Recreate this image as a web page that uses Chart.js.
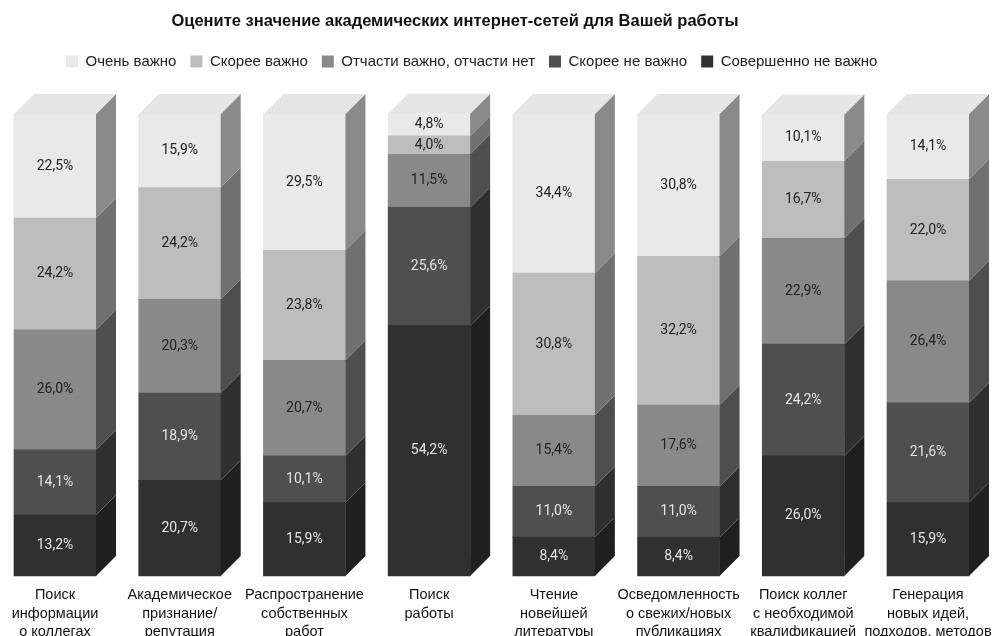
<!DOCTYPE html>
<html lang="ru">
<head>
<meta charset="UTF-8">
<title>Академические интернет-сети</title>
<script src="https://cdn.jsdelivr.net/npm/chart.js@4.4.0/dist/chart.umd.min.js"></script>
<style>
  body { margin: 0; background: #fff; }
  #wrap { width: 996px; height: 636px; }
</style>
</head>
<body>
<div id="wrap"><canvas id="chart"></canvas></div>
<script>
// категории (подписи оси X)
const categories = [
  ['Поиск', 'информации', 'о коллегах'],
  ['Академическое', 'признание/', 'репутация'],
  ['Распространение', 'собственных', 'работ'],
  ['Поиск', 'работы'],
  ['Чтение', 'новейшей', 'литературы'],
  ['Осведомленность', 'о свежих/новых', 'публикациях'],
  ['Поиск коллег', 'с необходимой', 'квалификацией'],
  ['Генерация', 'новых идей,', 'подходов, методов']
];

// значения, %
const veryImportant   = [22.5, 15.9, 29.5, 4.8, 34.4, 30.8, 10.1, 14.1];
const ratherImportant = [24.2, 24.2, 23.8, 4.0, 30.8, 32.2, 16.7, 22.0];
const partly          = [26.0, 20.3, 20.7, 11.5, 15.4, 17.6, 22.9, 26.4];
const ratherNot       = [14.1, 18.9, 10.1, 25.6, 11.0, 11.0, 24.2, 21.6];
const notAtAll        = [13.2, 20.7, 15.9, 54.2, 8.4, 8.4, 26.0, 15.9];

const seriesNames = ['Совершенно не важно', 'Скорее не важно', 'Отчасти важно, отчасти нет', 'Скорее важно', 'Очень важно'];
const seriesData  = [notAtAll, ratherNot, partly, ratherImportant, veryImportant];

// цвета: лицевая грань, боковая грань, подпись
const frontColors = ['#303030', '#4f4f4f', '#898989', '#bdbdbd', '#e9e9e9'];
const sideColors  = ['#202020', '#2f2f2f', '#4e4e4e', '#707070', '#8a8a8a'];
const labelColors = ['#e4e4e4', '#e4e4e4', '#222222', '#222222', '#222222'];
const topColor = '#e6e6e6';
const DEPTH = 20;

const fmt = v => v.toFixed(1).replace('.', ',') + '%';

// 3D грани + подписи значений
const bars3d = {
  id: 'bars3d',
  afterDatasetsDraw(chart) {
    const ctx = chart.ctx;
    ctx.save();
    chart.data.datasets.forEach((ds, di) => {
      const meta = chart.getDatasetMeta(di);
      meta.data.forEach((bar, i) => {
        const p = bar.getProps(['x', 'y', 'base', 'width'], true);
        const l = p.x - p.width / 2, r = p.x + p.width / 2;
        const top = Math.min(p.y, p.base), bottom = Math.max(p.y, p.base);
        // боковая грань
        ctx.fillStyle = sideColors[di];
        ctx.beginPath();
        ctx.moveTo(r, top);
        ctx.lineTo(r + DEPTH, top - DEPTH);
        ctx.lineTo(r + DEPTH, bottom - DEPTH);
        ctx.lineTo(r, bottom);
        ctx.closePath();
        ctx.fill();
        // верхняя грань только у последнего ряда
        if (di === chart.data.datasets.length - 1) {
          ctx.fillStyle = topColor;
          ctx.beginPath();
          ctx.moveTo(l, top);
          ctx.lineTo(l + DEPTH, top - DEPTH);
          ctx.lineTo(r + DEPTH, top - DEPTH);
          ctx.lineTo(r, top);
          ctx.closePath();
          ctx.fill();
        }
        // подпись
        ctx.fillStyle = labelColors[di];
        ctx.font = '14px Roboto';
        ctx.textAlign = 'center';
        ctx.textBaseline = 'middle';
        ctx.fillText(fmt(ds.data[i]), p.x, (top + bottom) / 2);
      });
    });
    ctx.restore();
  }
};

// заголовок рисуем сами, чтобы поставить его как в оригинале
const titlePlugin = {
  id: 'titleText',
  afterDraw(chart) {
    const ctx = chart.ctx;
    ctx.save();
    ctx.font = 'bold 16.5px "Liberation Sans"';
    ctx.fillStyle = '#111';
    ctx.textAlign = 'center';
    ctx.textBaseline = 'middle';
    ctx.fillText('Оцените значение академических интернет-сетей для Вашей работы', 455, 21);
    ctx.restore();
  }
};

const ctx = document.getElementById('chart').getContext('2d');
const chart = new Chart(ctx, {
  type: 'bar',
  data: {
    labels: categories,
    datasets: seriesData.map((d, i) => ({
      label: seriesNames[i],
      data: d,
      backgroundColor: frontColors[i],
      borderWidth: 0,
      barThickness: 82,
      clip: false
    }))
  },
  options: {
    responsive: true,
    maintainAspectRatio: false,
    animation: false,
    layout: { padding: { top: 40, left: 52, right: 68, bottom: 0 } },
    plugins: {
      legend: {
        reverse: true,
        align: 'start',
        labels: {
          boxWidth: 12,
          boxHeight: 12,
          padding: 14,
          color: '#222',
          font: { family: '"Liberation Sans"', size: 15 }
        }
      },
      title: { display: false },
      tooltip: { enabled: false }
    },
    scales: {
      x: {
        stacked: true,
        offset: false,
        grid: { display: false },
        border: { display: false },
        ticks: {
          color: '#111',
          maxRotation: 0,
          autoSkip: false,
          padding: 2,
          font: { family: '"Liberation Sans"', size: 14.5, lineHeight: '18.5px' }
        },
        afterFit(scale) { scale.height = 60; }
      },
      y: {
        stacked: true,
        min: 0,
        max: 107.6,
        grid: { display: false },
        border: { display: false },
        ticks: { display: false },
        afterFit(scale) { scale.width = 3; }
      }
    }
  },
  plugins: [bars3d, titlePlugin]
});
</script>
</body>
</html>
